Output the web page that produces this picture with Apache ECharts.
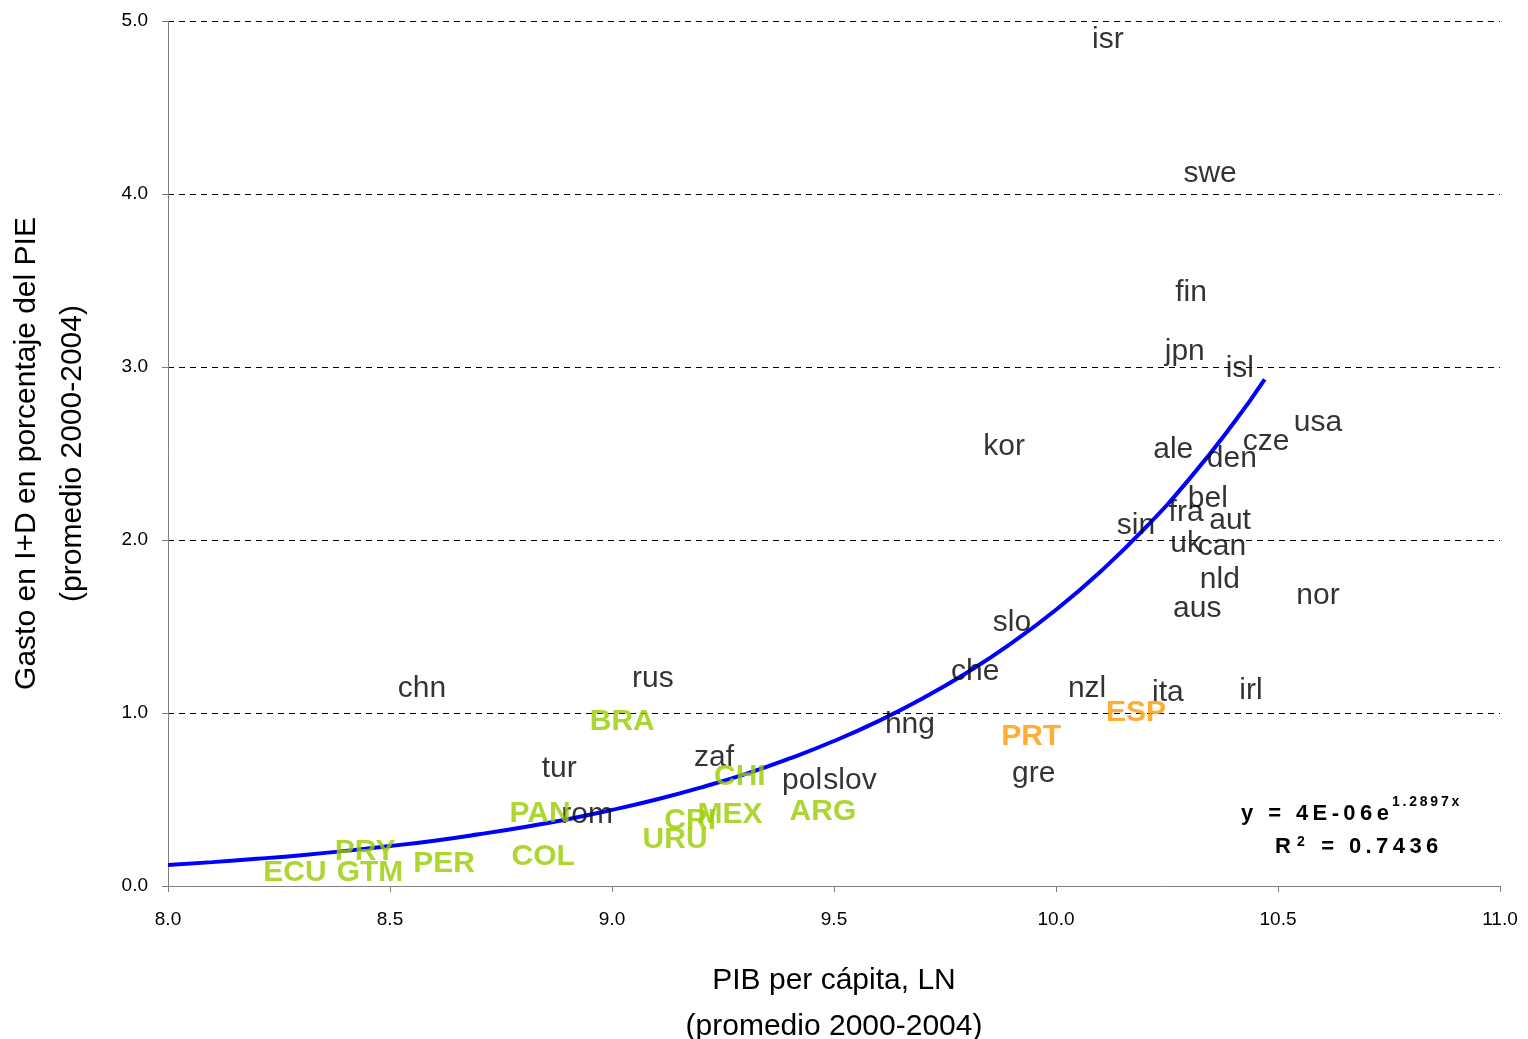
<!DOCTYPE html>
<html>
<head>
<meta charset="utf-8">
<script src="https://cdn.jsdelivr.net/npm/echarts@6/dist/echarts.min.js"></script>
<style>
html,body{margin:0;padding:0;background:#fff;}
#main{width:1528px;height:1039px;}
</style>
</head>
<body>
<div id="main"></div>
<script>
// Black labels (other countries)
const blackNames = ['isr','swe','fin','jpn','isl','usa','cze','kor','ale','den','bel','fra','aut','sin','uk','can','nld','nor','aus','slo','che','nzl','ita','irl','hng','gre','chn','rus','tur','zaf','pol','slov','rom'];
const blackX = [10.117,10.347,10.304,10.29,10.414,10.59,10.473,9.883,10.264,10.396,10.342,10.293,10.392,10.18,10.293,10.374,10.369,10.59,10.318,9.901,9.818,10.07,10.252,10.439,9.671,9.95,8.572,9.092,8.881,9.23,9.428,9.536,8.944];
const blackY = [4.89,4.12,3.43,3.09,2.99,2.68,2.57,2.54,2.52,2.47,2.24,2.16,2.11,2.08,1.98,1.96,1.77,1.68,1.60,1.52,1.24,1.14,1.12,1.13,0.93,0.65,1.14,1.20,0.68,0.74,0.61,0.61,0.41];
// Green labels (Latin America)
const greenNames = ['BRA','CHI','PAN','CRI','MEX','ARG','URU','COL','PRY','PER','ECU','GTM'];
const greenX = [9.023,9.288,8.838,9.176,9.266,9.475,9.142,8.845,8.444,8.622,8.286,8.455];
const greenY = [0.95,0.63,0.42,0.38,0.41,0.43,0.27,0.17,0.20,0.13,0.075,0.075];
// Orange labels (Iberia)
const orangeNames = ['PRT','ESP'];
const orangeX = [9.944,10.18];
const orangeY = [0.86,1.00];
// Trend line points
const trendX = [8.0,8.1,8.2,8.3,8.4,8.5,8.6,8.7,8.8,8.9,9.0,9.1,9.2,9.3,9.4,9.5,9.6,9.7,9.8,9.9,10.0,10.1,10.2,10.3,10.4,10.47];
const trendY = [0.121,0.138,0.157,0.178,0.203,0.231,0.262,0.299,0.340,0.386,0.440,0.500,0.569,0.647,0.737,0.838,0.953,1.085,1.234,1.404,1.597,1.817,2.067,2.352,2.676,2.929];
// Axis ticks
const yTicks = [0,1,2,3,4,5];
const xTicks = [8.0,8.5,9.0,9.5,10.0,10.5,11.0];

function pts(names, xs, ys){ return names.map((n,i)=>({name:n, value:[xs[i], ys[i]]})); }
function spaced(s){ return s.split('').join('\u2009'); }

const chart = echarts.init(document.getElementById('main'));
const labelFont = 'Liberation Sans, Arial, sans-serif';
function labelSeries(data, color, weight, size){
  return {
    type:'scatter', data:data, symbolSize:0, silent:true, z:3,
    itemStyle:{color:color},
    label:{show:true, position:'inside', formatter:p=>p.name, color:color, fontSize:size,
      fontWeight:weight, fontFamily:labelFont, textBorderWidth:0, textShadowBlur:0},
    labelLayout:{hideOverlap:false}
  };
}
chart.setOption({
  animation:false,
  backgroundColor:'#fff',
  grid:{left:168, right:28, top:21, bottom:153, containLabel:false, outerBoundsMode:'none'},
  xAxis:{type:'value', min:xTicks[0], max:xTicks[xTicks.length-1], interval:0.5,
    axisLine:{lineStyle:{color:'#808080', width:1}},
    axisTick:{show:true, inside:false, length:6, lineStyle:{color:'#808080'}},
    axisLabel:{formatter:v=>v.toFixed(1), color:'#000', fontSize:19, fontFamily:labelFont, margin:24},
    splitLine:{show:false},
    name:'PIB per cápita, LN\n(promedio 2000-2004)', nameLocation:'middle', nameGap:72,
    nameTextStyle:{fontSize:30, color:'#000', fontFamily:labelFont, lineHeight:46}
  },
  yAxis:{type:'value', min:yTicks[0], max:yTicks[yTicks.length-1], interval:1,
    axisLine:{show:true, lineStyle:{color:'#808080', width:1}},
    axisTick:{show:true, inside:false, length:6, lineStyle:{color:'#808080'}},
    axisLabel:{formatter:v=>v.toFixed(1), color:'#000', fontSize:19, fontFamily:labelFont, margin:20},
    splitLine:{show:true, lineStyle:{color:'#000', type:[6,5], width:1}},
    name:'Gasto en I+D en porcentaje del PIE\n(promedio 2000-2004)', nameLocation:'middle', nameGap:72,
    nameTextStyle:{fontSize:30, color:'#000', fontFamily:labelFont, lineHeight:46}
  },
  series:[
    {type:'line', data:trendX.map((x,i)=>[x,trendY[i]]), smooth:true, showSymbol:false, silent:true, z:2,
      lineStyle:{color:'#0000FF', width:4}},
    labelSeries(pts(blackNames,blackX,blackY), '#000', 'normal', 30),
    labelSeries(pts(greenNames,greenX,greenY), '#99CC00', 'bold', 30),
    labelSeries(pts(orangeNames,orangeX,orangeY), '#FF9900', 'bold', 30)
  ],
  graphic:[
    {type:'text', left:1241, top:795, style:{
      text:'{b|'+spaced('y = 4E-06e')+'}{s|'+spaced('1.2897x')+'}', fill:'#000',
      rich:{b:{fontSize:22, fontWeight:'bold', fontFamily:labelFont, verticalAlign:'bottom', padding:[8,0,0,0]},
            s:{fontSize:14, fontWeight:'bold', fontFamily:labelFont, verticalAlign:'top', padding:[0,0,12,3]}}}},
    {type:'text', left:1275, top:835, style:{
      text:'{b|R}{s|2}{b|'+spaced(' = 0.7436')+'}', fill:'#000',
      rich:{b:{fontSize:22, fontWeight:'bold', fontFamily:labelFont},
            s:{fontSize:14, fontWeight:'bold', fontFamily:labelFont, verticalAlign:'top', padding:[0,6,10,6]}}}}
  ]
});
</script>
</body>
</html>
